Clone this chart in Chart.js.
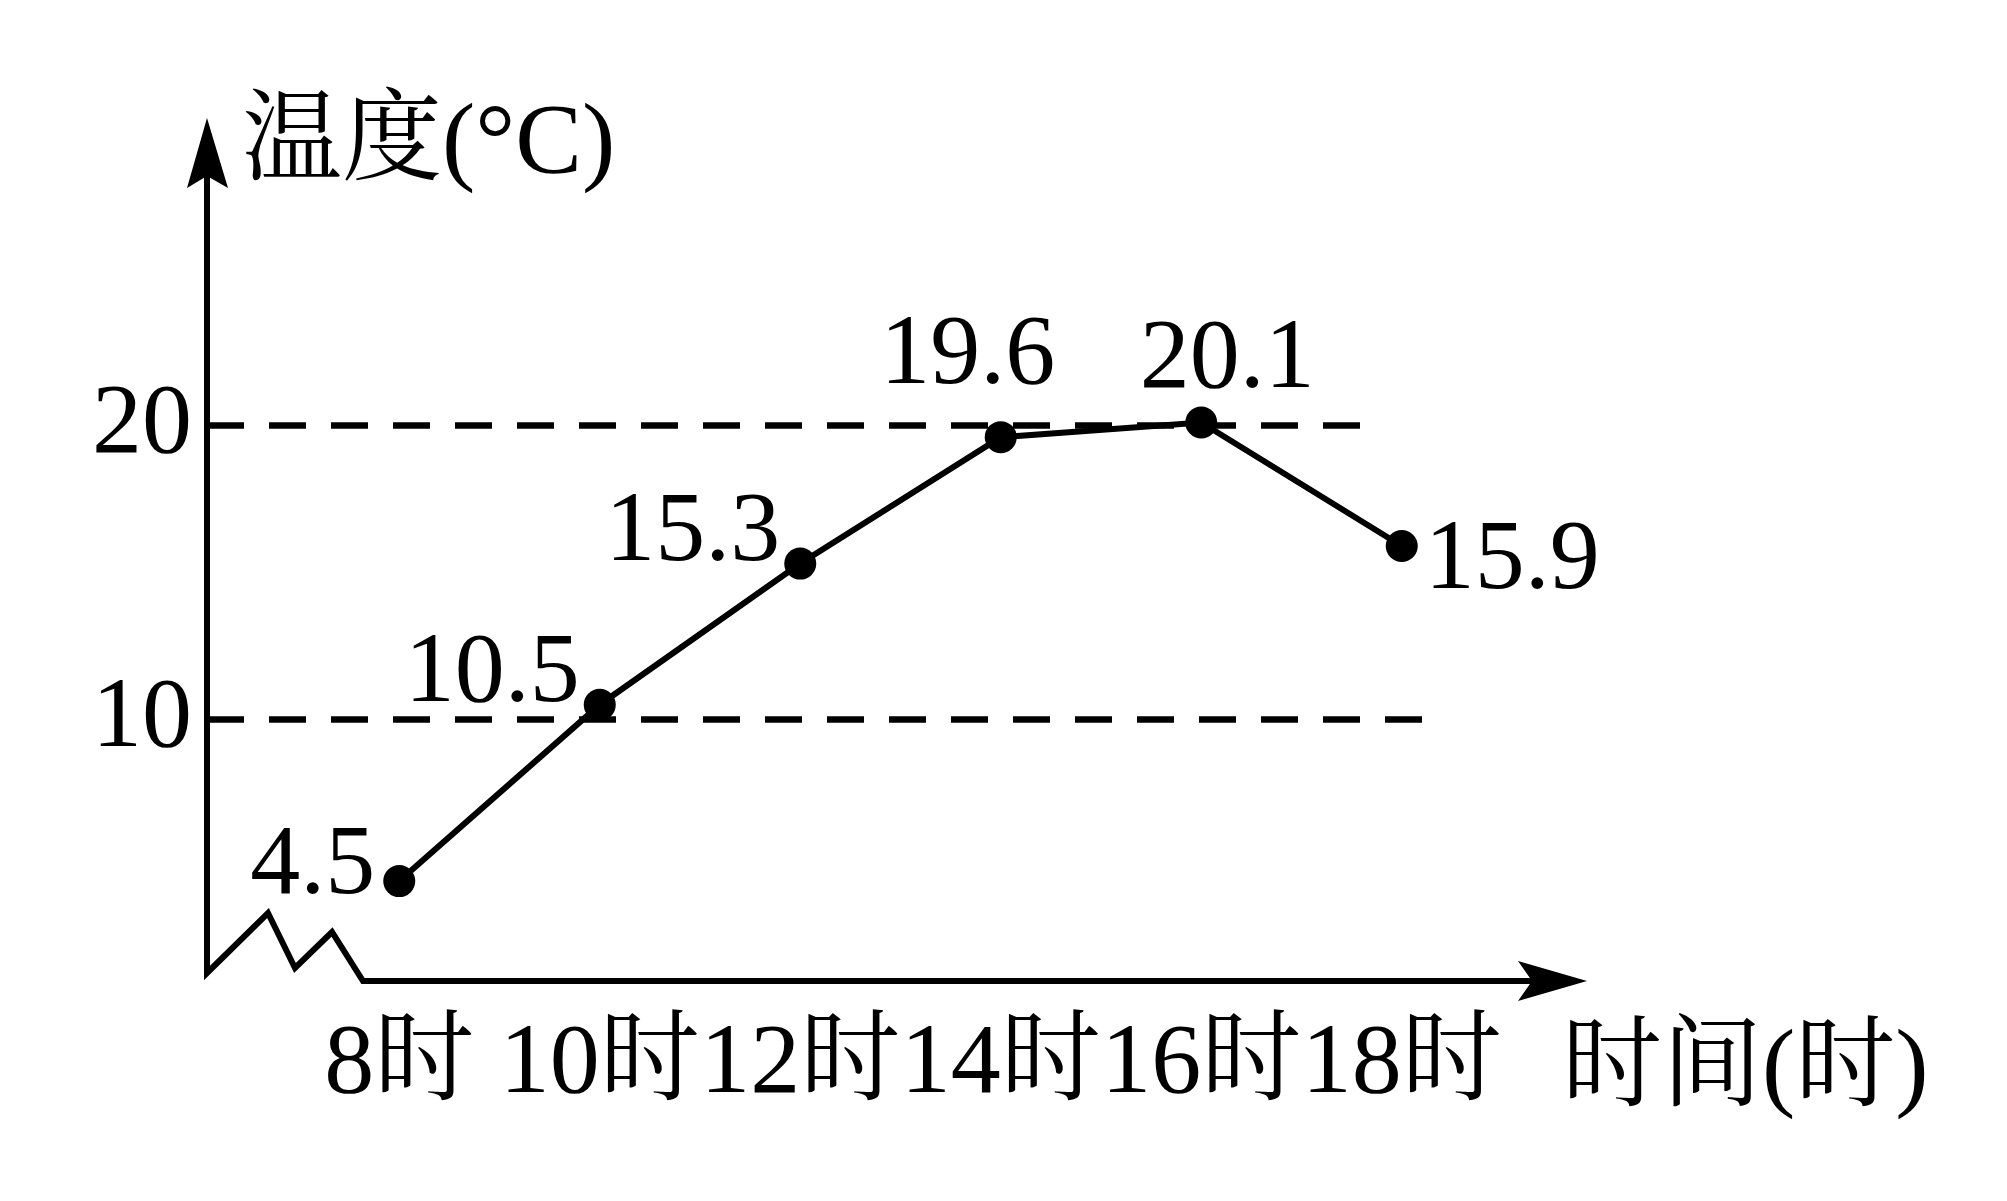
<!DOCTYPE html>
<html>
<head>
<meta charset="utf-8">
<script src="https://cdn.jsdelivr.net/npm/chart.js@4/dist/chart.umd.min.js"></script>
<style>
  html, body { margin: 0; padding: 0; background: #ffffff; }
  #wrap { width: 2007px; height: 1201px; }
</style>
</head>
<body>
<div id="wrap"><canvas id="c" width="2007" height="1201"></canvas></div>
<script>
// ---- data ----
const categories = ['8时', '10时', '12时', '14时', '16时', '18时'];
const temperatures = [4.5, 10.5, 15.3, 19.6, 20.1, 15.9];
const valueLabels = ['4.5', '10.5', '15.3', '19.6', '20.1', '15.9'];
const yTickValues = [10, 20];
const yAxisTitle = '温度(°C)';
const xAxisTitle = '时间(时)';

// ---- style ----
const FAMILY = '"Liberation Serif", "Times New Roman", "Noto Serif CJK SC", "Noto Sans CJK SC", serif';
const FONT = '100px ' + FAMILY;
const INK = '#000000';
// label placement relative to each point: [textAlign, dx, dy(baseline)]
const labelPlacement = [
  ['right', -24, 12],
  ['right', -20, -4],
  ['right', -20, -4],
  ['center', -33, -54],
  ['center', 26, -35],
  ['left', 23, 42]
];
// dashed reference lines end (x, px)
const dashEnds = { 10: 1425, 20: 1368 };

const decorPlugin = {
  id: 'decor',
  beforeDatasetsDraw(chart) {
    const ctx = chart.ctx;
    const ca = chart.chartArea;
    const ys = chart.scales.y;
    const ax = ca.left - 92;          // y-axis line x
    const ay = ca.bottom - 3;         // x-axis line y
    const topTip = ca.top + 16;       // y arrow tip
    const rightTip = ca.right + 85;   // x arrow tip
    ctx.save();
    ctx.strokeStyle = INK;
    ctx.fillStyle = INK;

    // dashed reference lines
    ctx.lineWidth = 6.5;
    ctx.setLineDash([37, 25]);
    ctx.lineCap = 'butt';
    yTickValues.forEach(v => {
      const py = ys.getPixelForValue(v);
      ctx.beginPath();
      ctx.moveTo(ax, py);
      ctx.lineTo(dashEnds[v], py);
      ctx.stroke();
    });
    ctx.setLineDash([]);

    // axes with broken (zigzag) origin
    ctx.lineWidth = 6;
    ctx.lineJoin = 'miter';
    ctx.beginPath();
    ctx.moveTo(ax, topTip + 40);
    ctx.lineTo(ax, ay - 8);
    ctx.lineTo(ax + 61, ay - 68);
    ctx.lineTo(ax + 88, ay - 13);
    ctx.lineTo(ax + 125, ay - 49);
    ctx.lineTo(ax + 156, ay);
    ctx.lineTo(rightTip - 40, ay);
    ctx.stroke();

    // y arrow head
    ctx.beginPath();
    ctx.moveTo(ax, topTip);
    ctx.lineTo(ax + 21, topTip + 70);
    ctx.lineTo(ax, topTip + 58);
    ctx.lineTo(ax - 20, topTip + 70);
    ctx.closePath();
    ctx.fill();

    // x arrow head
    ctx.beginPath();
    ctx.moveTo(rightTip, ay);
    ctx.lineTo(rightTip - 69, ay + 20);
    ctx.lineTo(rightTip - 55, ay);
    ctx.lineTo(rightTip - 69, ay - 20);
    ctx.closePath();
    ctx.fill();

    // axis titles
    ctx.font = FONT;
    ctx.textBaseline = 'alphabetic';
    ctx.textAlign = 'left';
    ctx.fillText(yAxisTitle, ax + 35, ca.top + 70);
    ctx.fillText(xAxisTitle, rightTip - 25, ay + 117);
    ctx.restore();
  },
  afterDatasetsDraw(chart) {
    const ctx = chart.ctx;
    const meta = chart.getDatasetMeta(0);
    ctx.save();
    ctx.font = FONT;
    ctx.fillStyle = INK;
    ctx.textBaseline = 'alphabetic';
    meta.data.forEach((pt, i) => {
      const [align, dx, dy] = labelPlacement[i];
      ctx.textAlign = align;
      ctx.fillText(valueLabels[i], pt.x + dx, pt.y + dy);
    });
    ctx.restore();
  }
};

new Chart(document.getElementById('c'), {
  type: 'line',
  data: {
    labels: categories,
    datasets: [{
      data: temperatures,
      borderColor: INK,
      backgroundColor: INK,
      borderWidth: 6,
      pointRadius: 16,
      pointHoverRadius: 16,
      pointBackgroundColor: INK,
      pointBorderColor: INK,
      pointBorderWidth: 0,
      tension: 0,
      fill: false,
      clip: false
    }]
  },
  options: {
    responsive: false,
    animation: false,
    devicePixelRatio: 1,
    layout: { padding: { left: 0, right: 505, top: 102, bottom: 0 } },
    plugins: {
      legend: { display: false },
      tooltip: { enabled: false },
      title: { display: false }
    },
    events: [],
    scales: {
      x: {
        type: 'category',
        offset: true,
        grid: { display: false, drawTicks: false },
        border: { display: false },
        afterFit(s) { s.height = 217; s.paddingLeft = 0; s.paddingRight = 0; },
        ticks: {
          color: INK,
          font: { family: FAMILY, size: 100 },
          padding: 22,
          maxRotation: 0,
          minRotation: 0,
          autoSkip: false
        }
      },
      y: {
        type: 'linear',
        min: 1,
        max: 31,
        grid: { display: false, drawTicks: false },
        border: { display: false },
        afterFit(s) { s.width = 299; s.paddingTop = 0; s.paddingBottom = 0; },
        afterBuildTicks(s) { s.ticks = yTickValues.map(v => ({ value: v })); },
        ticks: {
          color: INK,
          font: { family: '"Liberation Serif", "Times New Roman", serif', size: 100 },
          padding: 107,
          callback: v => String(v)
        }
      }
    }
  },
  plugins: [decorPlugin]
});
</script>
</body>
</html>
